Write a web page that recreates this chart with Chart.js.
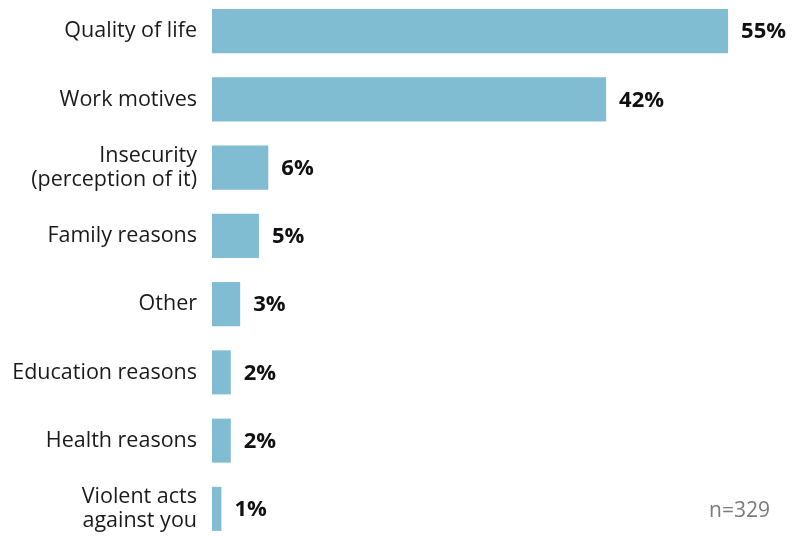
<!DOCTYPE html>
<html>
<head>
<meta charset="utf-8">
<script src="https://cdn.jsdelivr.net/npm/chart.js@4.4.1/dist/chart.umd.min.js"></script>
<style>
  html, body { margin: 0; padding: 0; background: #fff; overflow: hidden; }
  /* plot runs a few px past the page edges, so the canvas is taller and shifted up */
  #wrap { width: 792px; height: 546px; margin-top: -3px; }
</style>
</head>
<body>
<div id="wrap"><canvas id="chart" width="792" height="546"></canvas></div>
<script>
// reasons for leaving, share of respondents (%)
const reasons = [
  "Quality of life",
  "Work motives",
  ["Insecurity", "(perception of it)"],
  "Family reasons",
  "Other",
  "Education reasons",
  "Health reasons",
  ["Violent acts", "against you"],
];
const shares = [55, 42, 6, 5, 3, 2, 2, 1];
const sampleNote = "n=329";

const barColor = "#80bdd3";
const fontFamily = "'Open Sans', 'Noto Sans', sans-serif";

// percent labels at the end of each bar + sample size in the corner
const valueLabels = {
  id: "valueLabels",
  afterDatasetsDraw(chart) {
    const ctx = chart.ctx;
    const meta = chart.getDatasetMeta(0);
    ctx.save();
    ctx.font = `bold 22px ${fontFamily}`;
    ctx.fillStyle = "#111";
    ctx.textAlign = "left";
    ctx.textBaseline = "middle";
    meta.data.forEach((bar, i) => {
      ctx.fillText(shares[i] + "%", bar.x + 13, bar.y + 1);
    });
    ctx.font = `21px ${fontFamily}`;
    ctx.fillStyle = "#7a7a7a";
    ctx.textAlign = "right";
    ctx.textBaseline = "alphabetic";
    ctx.fillText(sampleNote, 770, 520);
    ctx.restore();
  },
};

new Chart(document.getElementById("chart"), {
  type: "bar",
  data: {
    labels: reasons,
    datasets: [
      {
        data: shares,
        backgroundColor: barColor,
        borderWidth: 0,
        categoryPercentage: 1,
        barPercentage: 0.645,
      },
    ],
  },
  options: {
    indexAxis: "y",
    responsive: false,
    animation: false,
    layout: { padding: { top: 0, bottom: 0, left: 0, right: 17 } },
    plugins: {
      legend: { display: false },
      tooltip: { enabled: false },
    },
    scales: {
      x: { display: false, min: 0, max: 60 },
      y: {
        grid: { display: false, drawTicks: false },
        border: { display: false },
        ticks: {
          color: "#1a1a1a",
          padding: 15,
          font: { family: fontFamily, size: 21.5, lineHeight: 1.12 },
        },
        afterFit(scale) {
          // fixed label column; labels may hang past the plot edges
          scale.width = 212;
          scale.paddingTop = 0;
          scale.paddingBottom = 0;
        },
      },
    },
  },
  plugins: [valueLabels],
});
</script>
</body>
</html>
